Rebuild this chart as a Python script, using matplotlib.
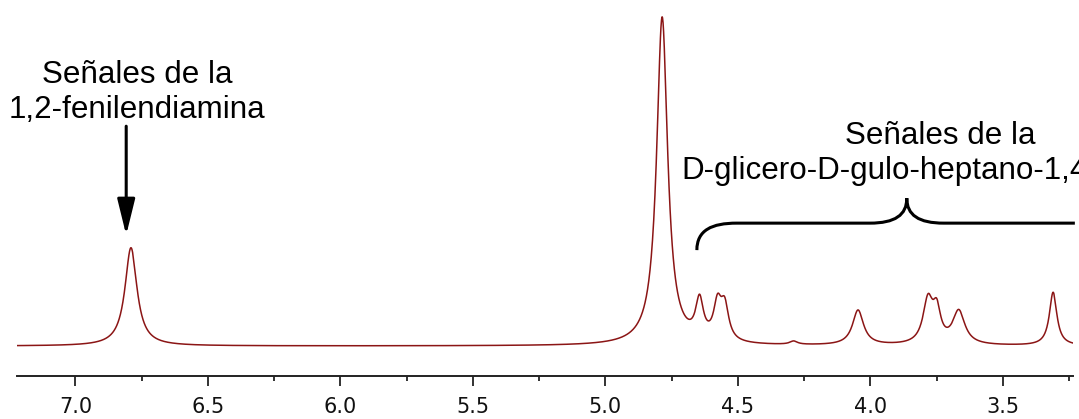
import numpy as np
import matplotlib.pyplot as plt
from matplotlib.ticker import MultipleLocator, FormatStrFormatter
from matplotlib.path import Path
from matplotlib.patches import PathPatch

# senales del espectro (ppm, altura relativa, anchura a media altura)
picos_ppm = [6.790, 4.786, 4.645, 4.577, 4.550, 4.290, 4.047, 3.783, 3.750, 3.667, 3.311]
picos_alt = [29.5, 98.5, 11.5, 10.5, 10.0, 1.0, 10.5, 13.0, 9.0, 10.0, 16.0]
picos_anc = [0.055, 0.050, 0.035, 0.036, 0.036, 0.035, 0.050, 0.045, 0.035, 0.055, 0.034]

x_min, x_max = 3.236, 7.22
texto_izq = "Señales de la\n1,2-fenilendiamina"
texto_der = "Señales de la\nD-glicero-D-gulo-heptano-1,4-lactona"


def espectro(ppm):
    inten = np.zeros(len(ppm))
    for p, a, w in zip(picos_ppm, picos_alt, picos_anc):
        g = w / 2
        inten += a * g**2 / ((ppm - p)**2 + g**2)
    return inten


ppm = np.linspace(x_min - 0.01, x_max, 6000)
inten = espectro(ppm)

fig = plt.figure(figsize=(10.79, 4.19), dpi=100)
ax = fig.add_axes([17/1079, 1 - 376/419, (1073 - 17)/1079, 376/419])
ax.plot(ppm, inten, color='#8B1515', lw=1.1)
ax.set_xlim(x_max, x_min)
ax.set_ylim(-9.0, 103.9)

for s in ['top', 'left', 'right']:
    ax.spines[s].set_visible(False)
ax.spines['bottom'].set_linewidth(1.4)
ax.spines['bottom'].set_color('#222222')
ax.set_yticks([])
ax.xaxis.set_major_locator(MultipleLocator(0.5))
ax.xaxis.set_minor_locator(MultipleLocator(0.25))
ax.xaxis.set_major_formatter(FormatStrFormatter('%.1f'))
ax.tick_params(axis='x', which='major', length=7.2, width=1.3, color='#222222',
               labelsize=15, pad=8, labelcolor='#111111')
ax.tick_params(axis='x', which='minor', length=3.6, width=1.3, color='#222222')

fuente = 'Liberation Sans'
ax.text(6.766, 76.2, texto_izq, ha='center', va='center', fontsize=22.6,
        family=fuente, linespacing=1.22)
ax.annotate('', xy=(6.808, 33.3), xytext=(6.808, 66.0),
            arrowprops=dict(arrowstyle='-|>,head_length=1.1,head_width=0.27',
                            mutation_scale=20, lw=2.2, color='black',
                            shrinkA=0, shrinkB=0))

ax.text(3.735, 57.8, texto_der, ha='center', va='center', fontsize=22.6,
        family=fuente, linespacing=1.22, clip_on=False)

# llave sobre las senales del azucar
dx = 1/265.2
dy = 1/3.33
x_l, x_c, x_r = 4.655, 3.863, 3.229
y_b, y_m, y_t = 28.8, 36.9, 44.4
vert = [(x_l, y_b),
        (x_l, y_b + 20*dy), (x_l - 15*dx, y_m), (x_l - 40*dx, y_m),
        (x_c + 37*dx, y_m),
        (x_c + 12*dx, y_m), (x_c, y_m + 8*dy), (x_c, y_t),
        (x_c, y_m + 8*dy), (x_c - 12*dx, y_m), (x_c - 37*dx, y_m),
        (x_r, y_m)]
codigos = [Path.MOVETO,
           Path.CURVE4, Path.CURVE4, Path.CURVE4,
           Path.LINETO,
           Path.CURVE4, Path.CURVE4, Path.CURVE4,
           Path.CURVE4, Path.CURVE4, Path.CURVE4,
           Path.LINETO]
llave = PathPatch(Path(vert, codigos), fill=False, lw=2.2, color='black',
                  capstyle='butt', clip_on=False)
ax.add_patch(llave)

fig.savefig('out.png', dpi=100)
